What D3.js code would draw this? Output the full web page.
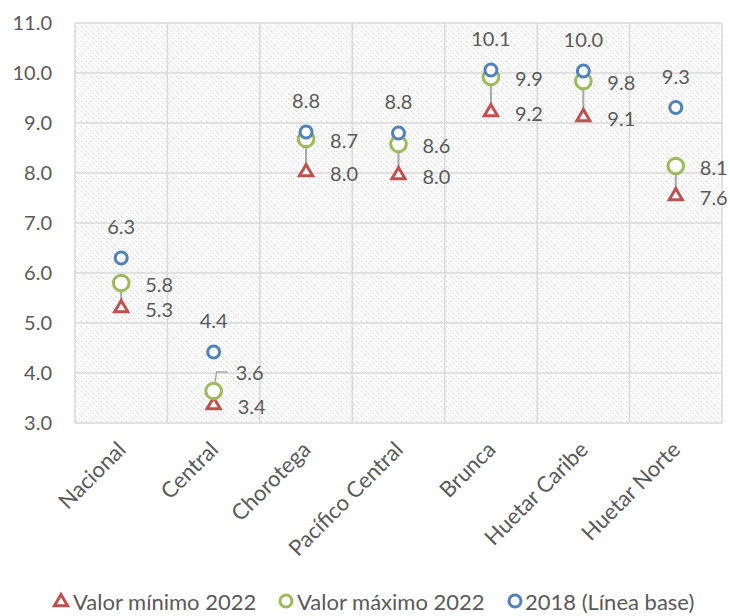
<!DOCTYPE html>
<html><head><meta charset="utf-8">
<script src="https://cdn.jsdelivr.net/npm/d3@7"></script>
<style>body{margin:0;background:#fff;} text{font-family:Lato,"Open Sans",sans-serif;fill:#595959;}</style>
</head><body>
<svg id="chart" width="730" height="616"></svg>
<script>
const categories = ["Nacional","Central","Chorotega","Pacífico Central","Brunca","Huetar Caribe","Huetar Norte"];
const minVals  = [5.32, 3.38, 8.04, 7.98, 9.24, 9.14, 7.56];
const maxVals  = [5.80, 3.64, 8.68, 8.58, 9.92, 9.84, 8.14];
const baseVals = [6.30, 4.42, 8.82, 8.80, 10.06, 10.04, 9.31];
const yTickVals = [3,4,5,6,7,8,9,10,11];
const legendLabels = ["Valor mínimo 2022","Valor máximo 2022","2018 (Línea base)"];

const colors = {min:"#c0504d", max:"#9bbb59", base:"#4f81bd", grid:"#d9d9d9", hl:"#a6a6a6"};
const fmt = d3.format(".1f");
const svg = d3.select("#chart");
const L=75, R=722, T=23, B=423;
const x = d3.scaleBand().domain(categories).range([L,R]).padding(0);
const y = d3.scaleLinear().domain([3,11]).range([B,T]);
const cx = d => x(d)+x.bandwidth()/2;

// hatch pattern (downward diagonals)
const defs = svg.append("defs");
const pat = defs.append("pattern").attr("id","hatch").attr("patternUnits","userSpaceOnUse")
  .attr("width",5).attr("height",5);
pat.append("path").attr("d","M-1,-1 L6,6 M-1,4 L1,6 M4,-1 L6,1")
  .attr("stroke","#d6d6d6").attr("stroke-width",0.9).attr("stroke-dasharray","2.1,0.7");

svg.append("rect").attr("x",L).attr("y",T).attr("width",R-L).attr("height",B-T).attr("fill","url(#hatch)");

// gridlines
svg.append("g").selectAll("line").data(yTickVals).join("line")
  .attr("x1",L).attr("x2",R).attr("y1",d=>y(d)).attr("y2",d=>y(d))
  .attr("stroke",colors.grid).attr("stroke-width",1.5);
const vlines = categories.map(c=>x(c)).concat([R]);
svg.append("g").selectAll("line").data(vlines).join("line")
  .attr("x1",d=>d).attr("x2",d=>d).attr("y1",T).attr("y2",B)
  .attr("stroke",colors.grid).attr("stroke-width",1.5);

// y axis labels
const yAxis = d3.axisLeft(y).tickValues(yTickVals).tickFormat(fmt).tickSize(0).tickPadding(23);
const ya = svg.append("g").attr("transform",`translate(${L},0)`).call(yAxis);
ya.select(".domain").remove();
ya.selectAll("text").attr("font-size",20).style("font-family","Lato").attr("fill","#595959");

// x axis labels
const xAxis = d3.axisBottom(x).tickSize(0).tickPadding(0);
const xa = svg.append("g").attr("transform",`translate(0,${B})`).call(xAxis);
xa.select(".domain").remove();
xa.selectAll("text").attr("font-size",22).style("font-family","Lato").attr("fill","#595959")
  .attr("text-anchor","end").attr("dy",null).attr("y",0)
  .attr("transform","translate(6,28) rotate(-45)");

const idx = d3.range(categories.length);
// high-low lines
svg.append("g").selectAll("line").data(idx).join("line")
  .attr("x1",i=>cx(categories[i])).attr("x2",i=>cx(categories[i]))
  .attr("y1",i=>y(maxVals[i])).attr("y2",i=>y(minVals[i]))
  .attr("stroke",colors.hl).attr("stroke-width",2);

// leader line for Central max label
const ci = 1;
svg.append("path")
  .attr("d",`M${cx(categories[ci])},${y(maxVals[ci])} L${cx(categories[ci])+3},${y(maxVals[ci])-19} L${cx(categories[ci])+14},${y(maxVals[ci])-19}`)
  .attr("fill","none").attr("stroke",colors.hl).attr("stroke-width",1.5);

const tri = d3.symbol().type(d3.symbolTriangle).size(75);
// min markers
svg.append("g").selectAll("path").data(idx).join("path")
  .attr("d",tri).attr("transform",i=>`translate(${cx(categories[i])},${y(minVals[i])+1})`)
  .attr("fill","#fff").attr("stroke",colors.min).attr("stroke-width",3);
// max markers
svg.append("g").selectAll("circle").data(idx).join("circle")
  .attr("cx",i=>cx(categories[i])).attr("cy",i=>y(maxVals[i])).attr("r",7.8)
  .attr("fill","#fff").attr("stroke",colors.max).attr("stroke-width",3);
// base markers
svg.append("g").selectAll("circle").data(idx).join("circle")
  .attr("cx",i=>cx(categories[i])).attr("cy",i=>y(baseVals[i])).attr("r",6)
  .attr("fill","#fff").attr("stroke",colors.base).attr("stroke-width",3);

// labels
const lab = svg.append("g").attr("font-size",20).attr("dominant-baseline","central");
lab.selectAll(".lb").data(idx).join("text").attr("class","lb")
  .attr("x",i=>cx(categories[i])).attr("y",i=>y(baseVals[i])-32).attr("text-anchor","middle")
  .text(i=>fmt(baseVals[i]));
lab.selectAll(".lmax").data(idx).join("text").attr("class","lmax")
  .attr("x",i=>cx(categories[i])+(i===ci?22:24)).attr("y",i=>y(maxVals[i])+(i===ci?-19:1))
  .text(i=>fmt(maxVals[i]));
lab.selectAll(".lmin").data(idx).join("text").attr("class","lmin")
  .attr("x",i=>cx(categories[i])+24).attr("y",i=>y(minVals[i])+2)
  .text(i=>fmt(minVals[i]));

// legend
const lg = svg.append("g").attr("font-size",22).attr("dominant-baseline","central");
const ly = 601;
lg.append("path").attr("d",tri).attr("transform",`translate(61,${ly+1})`)
  .attr("fill","#fff").attr("stroke",colors.min).attr("stroke-width",3);
lg.append("text").attr("x",73).attr("y",ly).text(legendLabels[0]);
lg.append("circle").attr("cx",286).attr("cy",ly).attr("r",6).attr("fill","#fff").attr("stroke",colors.max).attr("stroke-width",3);
lg.append("text").attr("x",297).attr("y",ly).text(legendLabels[1]);
lg.append("circle").attr("cx",515).attr("cy",ly).attr("r",6).attr("fill","#fff").attr("stroke",colors.base).attr("stroke-width",3);
lg.append("text").attr("x",525).attr("y",ly).text(legendLabels[2]);
</script>
</body></html>
